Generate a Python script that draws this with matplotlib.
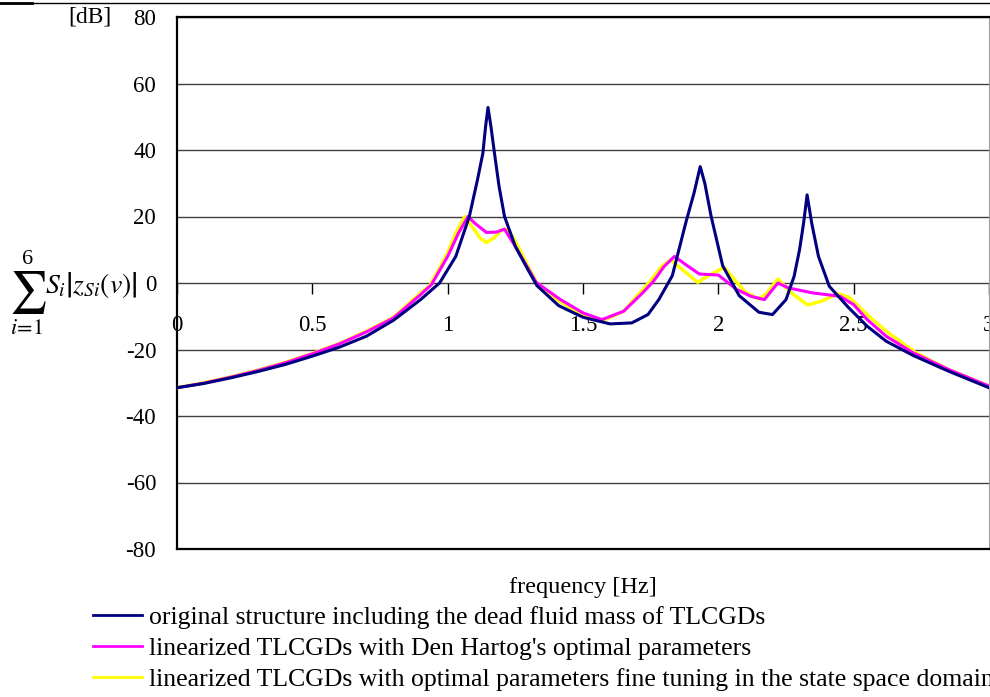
import numpy as np
import matplotlib
matplotlib.use("Agg")
import matplotlib.pyplot as plt
from matplotlib.lines import Line2D

plt.rcParams['font.family'] = 'serif'
plt.rcParams['font.serif'] = ['Liberation Serif', 'DejaVu Serif']
plt.rcParams['mathtext.fontset'] = 'stix'

# original structure (blue)
f_orig = [0, 0.1, 0.2, 0.3, 0.4, 0.5, 0.6, 0.7, 0.8, 0.9, 0.97, 1.03, 1.08, 1.11, 1.13,
          1.14, 1.149, 1.16, 1.173, 1.19, 1.21, 1.25, 1.3, 1.33, 1.41, 1.5, 1.6, 1.68,
          1.74, 1.78, 1.83, 1.88, 1.91, 1.933, 1.95, 1.973, 2.016, 2.077, 2.15, 2.2,
          2.25, 2.28, 2.3, 2.315, 2.328, 2.345, 2.37, 2.41, 2.48, 2.55, 2.62, 2.72,
          2.85, 3.0]
db_orig = [-31.5, -30.2, -28.5, -26.6, -24.5, -22.0, -19.3, -16.0, -11.2, -5.0, 0, 8,
           20, 31, 39, 47, 52.8, 47, 39, 29, 20, 11, 3.5, -0.8, -6.8, -10.3, -12.3, -12,
           -9.5, -5, 2.2, 18.2, 27, 35, 30, 20.2, 5.2, -3.8, -8.8, -9.5, -5, 2, 10, 18,
           26.5, 18, 8, -1, -7.3, -13, -17.5, -21.8, -26.5, -31.5]

# Den Hartog parameters (magenta)
f_dh = [0, 0.1, 0.2, 0.3, 0.4, 0.5, 0.6, 0.7, 0.8, 0.9, 0.94, 1.0, 1.04, 1.075, 1.1,
        1.143, 1.18, 1.21, 1.25, 1.327, 1.413, 1.5, 1.57, 1.65, 1.72, 1.76, 1.8, 1.838,
        1.88, 1.93, 2.0, 2.065, 2.12, 2.17, 2.22, 2.26, 2.35, 2.45, 2.5, 2.55, 2.62,
        2.72, 2.85, 3.0]
db_dh = [-31.5, -30.1, -28.3, -26.3, -24, -21.3, -18.3, -14.7, -10.5, -3.5, -0.5, 8,
         15, 20, 18, 15.2, 15.3, 16.2, 11, 0.2, -4.8, -9, -11, -8.5, -3, 0.5, 5, 8,
         5.5, 2.7, 2.4, -1.8, -4, -5, 0, -1.5, -3, -4, -6.5, -11, -16, -21, -26, -31]

# fine tuned in state space (yellow)
f_ss = [0, 0.1, 0.2, 0.3, 0.4, 0.5, 0.6, 0.7, 0.8, 0.9, 0.934, 0.995, 1.03, 1.063,
        1.09, 1.12, 1.143, 1.17, 1.2, 1.223, 1.26, 1.327, 1.413, 1.5, 1.573, 1.65,
        1.745, 1.79, 1.825, 1.86, 1.924, 1.97, 2.022, 2.06, 2.1, 2.15, 2.18, 2.22,
        2.27, 2.33, 2.38, 2.44, 2.483, 2.55, 2.62, 2.73, 2.85, 3.0]
db_ss = [-31.5, -30.0, -28.2, -26.2, -23.9, -21.2, -18.2, -14.5, -10.3, -3, -0.8, 8.2,
         15, 20, 17, 13.5, 12.2, 13.5, 16, 16.2, 11, 0.2, -5.5, -9.5, -11.3, -8.5, 0.2,
         5, 7, 4.5, 0.2, 2.5, 4.7, 1, -2.8, -4.8, -3, 1.2, -3, -6.6, -5.5, -3.2, -4.3,
         -9.5, -14.5, -21, -26, -31]

labels = ["original structure including the dead fluid mass of TLCGDs",
          "linearized TLCGDs with Den Hartog's optimal parameters",
          "linearized TLCGDs with optimal parameters fine tuning in the state space domain"]
colors = ['#000080', '#FF00FF', '#FFFF00']

W, H = 990, 697
fig = plt.figure(figsize=(W / 100, H / 100), dpi=100)
ax = fig.add_axes([177 / W, 1 - 549 / H, (989 - 177) / W, (549 - 17) / H])

ax.plot(f_ss, db_ss, color=colors[2], lw=2.5, zorder=3)
ax.plot(f_dh, db_dh, color=colors[1], lw=2.2, zorder=4)
ax.plot(f_orig, db_orig, color=colors[0], lw=2.2, zorder=5)

ax.set_xlim(0, 3)
ax.set_ylim(-80, 80)
ax.set_yticks(np.arange(-80, 81, 20))
ax.set_yticklabels([str(v) for v in range(-80, 81, 20)])
ax.yaxis.grid(True, color='#404040', lw=1.0)
ax.set_axisbelow(True)
ax.tick_params(axis='y', length=0, pad=15, labelsize=16.5)
ax.tick_params(axis='x', length=0, labelbottom=False)
for s in ['left', 'bottom', 'top']:
    ax.spines[s].set_linewidth(1.6)
ax.spines['right'].set_color('#a0a0a0')

# x ticks sit on the 0 dB line
sec = ax.secondary_xaxis(0.5)
sec.set_alignment('bottom')
sec.set_xticks([0, 0.5, 1, 1.5, 2, 2.5, 3])
sec.set_xticklabels(['0', '0.5', '1', '1.5', '2', '2.5', '3'])
sec.spines['bottom'].set_visible(False)
sec.spines['top'].set_visible(False)
sec.tick_params(axis='x', direction='out', length=8, width=1, pad=15, labelsize=16.5)

ax.set_xlabel('frequency [Hz]', fontsize=17.5, labelpad=20)

fig.text(112 / W, 1 - 17 / H, '[dB]', fontsize=17, ha='right', va='center')

# y label: sum sign with limits, then the term
fig.text(28 / W, 1 - 292 / H, r'$\sum$', fontsize=30, ha='center', va='center')
fig.text(28 / W, 1 - 259 / H, '6', fontsize=16, ha='center', va='center')
fig.text(27 / W, 1 - 330 / H, r'$i\!=\!1$', fontsize=16, ha='center', va='center')
fig.text(45 / W, 1 - 285 / H, r'$S_i\left|z_{Si}(v)\right|$', fontsize=20,
         ha='left', va='center')

fig.add_artist(Line2D([0, 1], [1 - 3 / H] * 2, color='black', lw=1.0))
fig.add_artist(Line2D([0, 32 / W], [1 - 3 / H] * 2, color='black', lw=2.0))

handles = [Line2D([], [], color=c, lw=2) for c in colors]
fig.legend(handles, labels, loc='upper left', bbox_to_anchor=(93 / W, 1 - 606 / H),
           frameon=False, fontsize=18.5, borderpad=0, borderaxespad=0,
           handlelength=1.9, handletextpad=0.28, labelspacing=0.31)

fig.savefig('out.png', dpi=100)
